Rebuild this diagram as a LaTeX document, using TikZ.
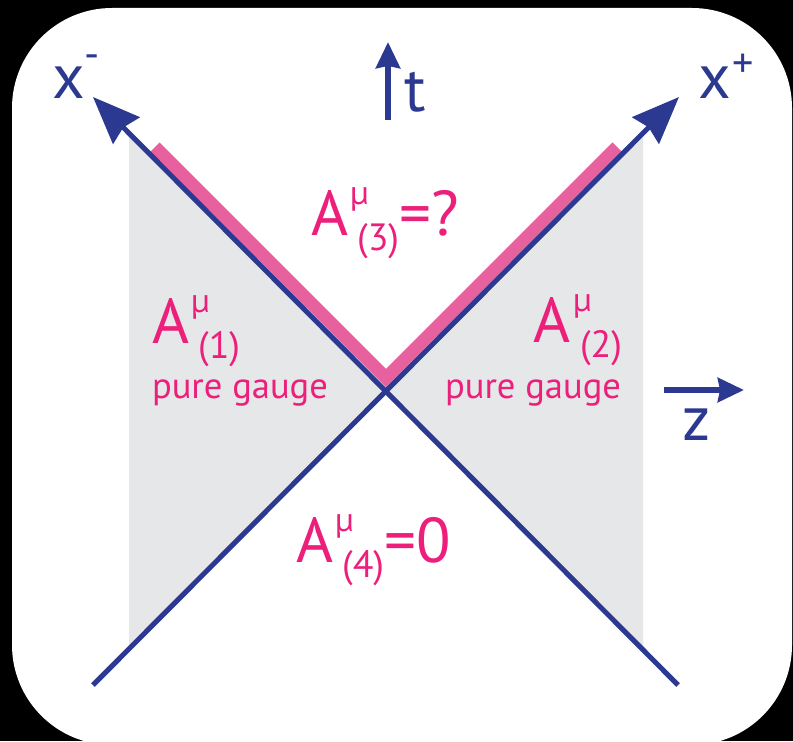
\documentclass[tikz,border=0pt]{standalone}
\usepackage{fontspec}
\setmainfont{PT Sans}
\usepackage{xcolor}
\usetikzlibrary{arrows.meta}

\definecolor{axisblue}{HTML}{2B3990}
\definecolor{labelpink}{HTML}{EC1F7B}
\definecolor{conepink}{HTML}{E8619F}
\definecolor{regiongray}{HTML}{E6E7E8}

\newcommand\bigfont{\fontsize{45}{50}\selectfont}
\newcommand\supfont{\fontsize{24}{28}\selectfont}
\newcommand\subfont{\fontsize{27}{30}\selectfont}
\newcommand\gaugefont{\fontsize{26}{30}\selectfont}
\newcommand\Alabel[1]{A\kern1.5pt\rlap{\raisebox{22pt}{\supfont µ}}\kern5pt\raisebox{-11pt}{\subfont (#1)}}

\begin{document}
\begin{tikzpicture}[
    x=0.025cm, y=-0.025cm,
    every node/.style={inner sep=0pt, outer sep=0pt},
    axis/.style={draw=axisblue, line width=3.6pt, -{Stealth[length=33.5pt, width=26.5pt, inset=3pt]}},
    unit/.style={draw=axisblue, line width=4.3pt, -{Stealth[length=18.5pt, width=17pt, inset=1.5pt]}},
    cone/.style={draw=conepink, line width=9.2pt, line join=miter},
    region/.style={fill=regiongray},
    axlabel/.style={text=axisblue, font=\bigfont, anchor=base west},
    field/.style={text=labelpink, font=\bigfont},
    gauge/.style={text=labelpink, font=\gaugefont}
]
\useasboundingbox (0,0) rectangle (793,741);
\clip (0,0) rectangle (793,741);
\fill[black] (0,0) rectangle (793,741);
\fill[white, rounded corners=2.5cm] (12,8) rectangle (792,745);

\coordinate (O)  at (386,391);
\coordinate (xm) at (93,97);
\coordinate (xp) at (679,97);
\coordinate (bl) at (93,685);
\coordinate (br) at (678,685);

\fill[region] (129,133) -- (O) -- (129,649) -- cycle;
\fill[region] (643,134) -- (O) -- (643,648) -- cycle;

\draw[cone] (155,147) -- (386,378) -- (617,147);

\draw[axis] (br) -- (xm);
\draw[axis] (bl) -- (xp);

\coordinate (t0) at (388,120);
\coordinate (t1) at (388,42);
\draw[unit] (t0) -- (t1);
\coordinate (z0) at (664,390);
\coordinate (z1) at (744,390);
\draw[unit] (z0) -- (z1);

\node[axlabel] (xminus) at (52,99) {x\raisebox{22pt}{\fontsize{30}{32}\selectfont -}};
\node[axlabel] (xplus)  at (698,99) {x\kern1pt\raisebox{15pt}{\fontsize{30}{32}\selectfont +}};
\node[axlabel] (tlab)   at (404,112) {t};
\node[axlabel] (zlab)   at (682,440) {z};

\node[field, anchor=base west] (A3) at (311,235) {\Alabel{3}=?};
\node[field, anchor=base west] (A1) at (152,343) {\Alabel{1}};
\node[gauge, anchor=base west] (g1) at (152,398) {pure gauge};
\node[field, anchor=base east] (A2) at (622,342) {\Alabel{2}};
\node[gauge, anchor=base east] (g2) at (621,398) {pure gauge};
\node[field, anchor=base west] (A4) at (296,562) {\Alabel{4}=0};
\end{tikzpicture}
\end{document}
